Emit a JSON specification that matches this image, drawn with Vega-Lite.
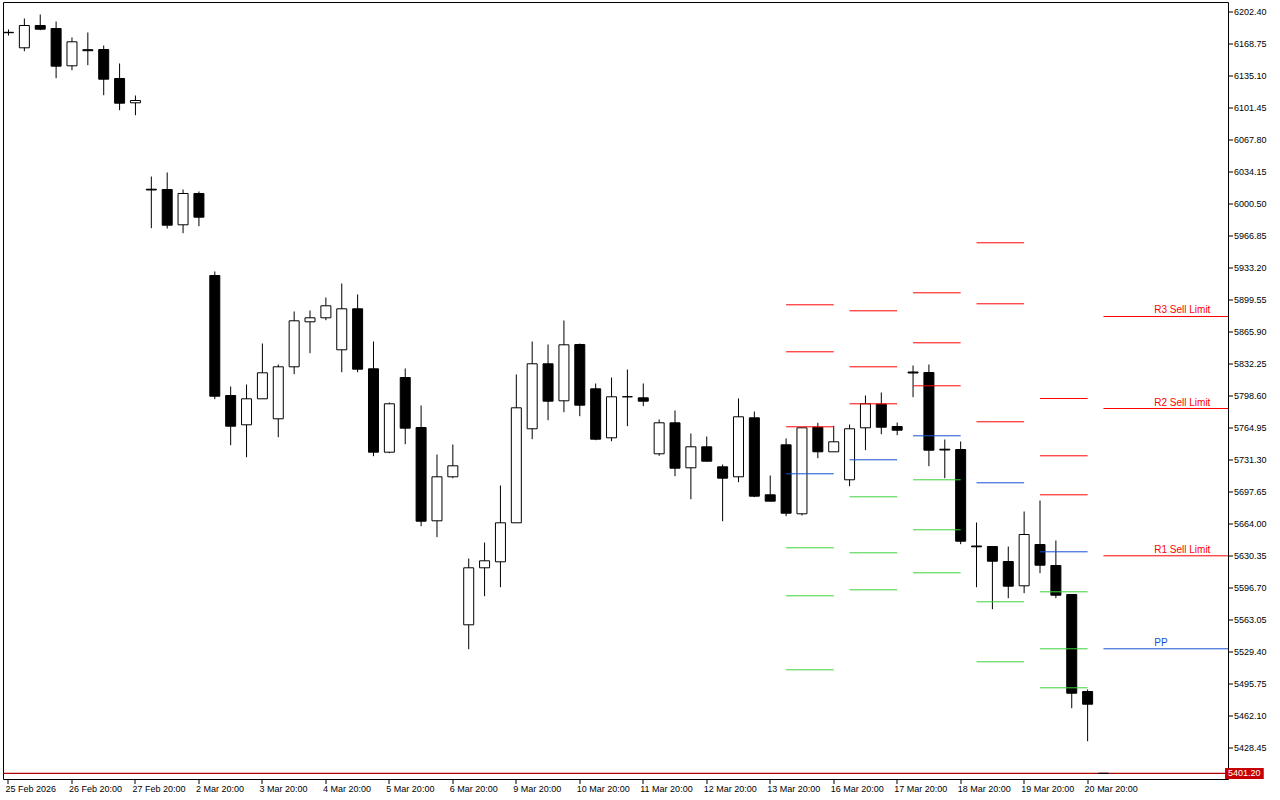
{
  "$schema": "https://vega.github.io/schema/vega-lite/v6.json",
  "width": 1225,
  "height": 777,
  "padding": {"left": 2, "top": 2, "right": 0, "bottom": 0},
  "autosize": {"type": "pad"},
  "background": "white",
  "config": {
    "view": {"stroke": "black", "strokeWidth": 1},
    "axis": {"translate": 0, "grid": false, "domain": false, "title": null, "tickColor": "black", "labelColor": "black", "labelFont": "Liberation Sans", "labelFontSize": 9, "tickSize": 5, "labelOverlap": false, "labelFlush": false, "labelBound": false}
  },
  "datasets": {
    "candles": [
      {"i": -1, "o": 6180.5, "h": 6183.5, "l": 6177.0, "c": 6180.1},
      {"i": 0, "o": 6164.23, "h": 6195.04, "l": 6160.65, "c": 6187.68},
      {"i": 1, "o": 6187.68, "h": 6199.25, "l": 6182.74, "c": 6183.79},
      {"i": 2, "o": 6184.52, "h": 6191.88, "l": 6132.26, "c": 6144.88},
      {"i": 3, "o": 6145.30, "h": 6175.06, "l": 6140.67, "c": 6170.54},
      {"i": 4, "o": 6162.23, "h": 6180.32, "l": 6145.93, "c": 6161.18},
      {"i": 5, "o": 6162.44, "h": 6166.65, "l": 6114.38, "c": 6131.21},
      {"i": 6, "o": 6131.95, "h": 6147.72, "l": 6098.61, "c": 6105.97},
      {"i": 7, "o": 6106.39, "h": 6114.07, "l": 6093.35, "c": 6108.81},
      {"i": 8, "o": 6015.54, "h": 6028.89, "l": 5974.53, "c": 6014.70},
      {"i": 9, "o": 6015.22, "h": 6033.10, "l": 5974.21, "c": 5977.68},
      {"i": 10, "o": 5978.10, "h": 6015.22, "l": 5969.27, "c": 6011.02},
      {"i": 11, "o": 6011.02, "h": 6013.12, "l": 5976.63, "c": 5986.10},
      {"i": 12, "o": 5924.79, "h": 5929.00, "l": 5794.71, "c": 5797.87},
      {"i": 13, "o": 5798.60, "h": 5808.07, "l": 5746.34, "c": 5766.32},
      {"i": 14, "o": 5767.79, "h": 5810.17, "l": 5733.72, "c": 5795.13},
      {"i": 15, "o": 5795.13, "h": 5853.28, "l": 5795.13, "c": 5822.47},
      {"i": 16, "o": 5774.10, "h": 5831.20, "l": 5754.75, "c": 5828.78},
      {"i": 17, "o": 5828.78, "h": 5886.93, "l": 5821.00, "c": 5877.15},
      {"i": 18, "o": 5876.10, "h": 5887.99, "l": 5843.09, "c": 5880.31},
      {"i": 19, "o": 5880.31, "h": 5901.66, "l": 5877.78, "c": 5892.93},
      {"i": 20, "o": 5846.66, "h": 5916.38, "l": 5823.10, "c": 5889.77},
      {"i": 21, "o": 5889.77, "h": 5904.81, "l": 5823.10, "c": 5826.26},
      {"i": 22, "o": 5826.68, "h": 5855.39, "l": 5734.77, "c": 5738.98},
      {"i": 23, "o": 5738.98, "h": 5791.24, "l": 5737.93, "c": 5789.87},
      {"i": 24, "o": 5817.53, "h": 5827.00, "l": 5747.39, "c": 5764.22},
      {"i": 25, "o": 5764.95, "h": 5788.09, "l": 5661.16, "c": 5666.42},
      {"i": 26, "o": 5666.84, "h": 5736.56, "l": 5649.60, "c": 5713.11},
      {"i": 27, "o": 5713.11, "h": 5747.08, "l": 5711.64, "c": 5724.67},
      {"i": 28, "o": 5557.47, "h": 5627.20, "l": 5531.82, "c": 5617.41},
      {"i": 29, "o": 5617.41, "h": 5644.02, "l": 5587.55, "c": 5624.77},
      {"i": 30, "o": 5623.72, "h": 5703.96, "l": 5597.01, "c": 5664.74},
      {"i": 31, "o": 5664.74, "h": 5820.69, "l": 5664.74, "c": 5785.67},
      {"i": 32, "o": 5763.59, "h": 5855.39, "l": 5752.64, "c": 5831.94},
      {"i": 33, "o": 5831.94, "h": 5852.23, "l": 5772.63, "c": 5792.61},
      {"i": 34, "o": 5793.03, "h": 5877.47, "l": 5781.04, "c": 5851.91},
      {"i": 35, "o": 5852.23, "h": 5853.28, "l": 5776.84, "c": 5788.40},
      {"i": 36, "o": 5805.65, "h": 5811.22, "l": 5751.59, "c": 5752.64},
      {"i": 37, "o": 5754.12, "h": 5817.53, "l": 5750.54, "c": 5797.23},
      {"i": 38, "o": 5797.23, "h": 5825.94, "l": 5766.32, "c": 5797.30},
      {"i": 39, "o": 5796.18, "h": 5811.22, "l": 5787.35, "c": 5792.61},
      {"i": 40, "o": 5737.29, "h": 5773.37, "l": 5735.19, "c": 5769.89},
      {"i": 41, "o": 5769.89, "h": 5782.83, "l": 5713.74, "c": 5722.15},
      {"i": 42, "o": 5722.57, "h": 5758.64, "l": 5689.55, "c": 5744.66},
      {"i": 43, "o": 5744.66, "h": 5755.49, "l": 5729.20, "c": 5729.51},
      {"i": 44, "o": 5723.62, "h": 5726.04, "l": 5666.42, "c": 5711.64},
      {"i": 45, "o": 5713.11, "h": 5795.45, "l": 5707.43, "c": 5776.20},
      {"i": 46, "o": 5775.15, "h": 5781.78, "l": 5691.66, "c": 5692.71},
      {"i": 47, "o": 5694.18, "h": 5714.48, "l": 5687.45, "c": 5687.45},
      {"i": 48, "o": 5746.76, "h": 5753.39, "l": 5671.68, "c": 5674.83},
      {"i": 49, "o": 5674.20, "h": 5764.64, "l": 5672.41, "c": 5764.64},
      {"i": 50, "o": 5765.27, "h": 5769.89, "l": 5732.67, "c": 5739.40},
      {"i": 51, "o": 5739.40, "h": 5766.74, "l": 5739.40, "c": 5749.91},
      {"i": 52, "o": 5709.96, "h": 5768.11, "l": 5703.23, "c": 5763.59},
      {"i": 53, "o": 5764.64, "h": 5798.60, "l": 5741.08, "c": 5789.87},
      {"i": 54, "o": 5789.45, "h": 5801.76, "l": 5757.91, "c": 5765.27},
      {"i": 55, "o": 5766.00, "h": 5770.21, "l": 5756.86, "c": 5762.11},
      {"i": 56, "o": 5823.31, "h": 5830.15, "l": 5796.81, "c": 5822.26},
      {"i": 57, "o": 5822.79, "h": 5831.20, "l": 5724.25, "c": 5741.08},
      {"i": 58, "o": 5742.13, "h": 5752.33, "l": 5711.64, "c": 5741.29},
      {"i": 59, "o": 5741.82, "h": 5750.23, "l": 5642.24, "c": 5645.39},
      {"i": 60, "o": 5640.34, "h": 5665.05, "l": 5597.01, "c": 5639.50},
      {"i": 61, "o": 5639.81, "h": 5639.81, "l": 5573.88, "c": 5624.35},
      {"i": 62, "o": 5624.04, "h": 5639.81, "l": 5585.45, "c": 5598.07},
      {"i": 63, "o": 5598.49, "h": 5676.62, "l": 5590.71, "c": 5652.43},
      {"i": 64, "o": 5641.92, "h": 5688.19, "l": 5611.74, "c": 5620.15},
      {"i": 65, "o": 5619.84, "h": 5646.13, "l": 5585.45, "c": 5588.60},
      {"i": 66, "o": 5589.34, "h": 5589.34, "l": 5469.78, "c": 5485.55},
      {"i": 67, "o": 5487.33, "h": 5489.44, "l": 5435.07, "c": 5473.98}
    ],
    "current": [
      {"i": 68, "o": 5401.30, "c": 5401.20}
    ],
    "pivots": [
      {"x1": 48, "x2": 51, "p": 5893.98, "lvl": "R"},
      {"x1": 48, "x2": 51, "p": 5844.55, "lvl": "R"},
      {"x1": 48, "x2": 51, "p": 5765.69, "lvl": "R"},
      {"x1": 48, "x2": 51, "p": 5716.27, "lvl": "P"},
      {"x1": 48, "x2": 51, "p": 5638.45, "lvl": "S"},
      {"x1": 48, "x2": 51, "p": 5587.97, "lvl": "S"},
      {"x1": 48, "x2": 51, "p": 5510.16, "lvl": "S"},
      {"x1": 52, "x2": 55, "p": 5887.67, "lvl": "R"},
      {"x1": 52, "x2": 55, "p": 5828.78, "lvl": "R"},
      {"x1": 52, "x2": 55, "p": 5789.87, "lvl": "R"},
      {"x1": 52, "x2": 55, "p": 5730.99, "lvl": "P"},
      {"x1": 52, "x2": 55, "p": 5692.08, "lvl": "S"},
      {"x1": 52, "x2": 55, "p": 5633.19, "lvl": "S"},
      {"x1": 52, "x2": 55, "p": 5594.28, "lvl": "S"},
      {"x1": 56, "x2": 59, "p": 5906.60, "lvl": "R"},
      {"x1": 56, "x2": 59, "p": 5854.02, "lvl": "R"},
      {"x1": 56, "x2": 59, "p": 5808.80, "lvl": "R"},
      {"x1": 56, "x2": 59, "p": 5756.22, "lvl": "P"},
      {"x1": 56, "x2": 59, "p": 5709.96, "lvl": "S"},
      {"x1": 56, "x2": 59, "p": 5657.38, "lvl": "S"},
      {"x1": 56, "x2": 59, "p": 5612.16, "lvl": "S"},
      {"x1": 60, "x2": 63, "p": 5959.18, "lvl": "R"},
      {"x1": 60, "x2": 63, "p": 5895.03, "lvl": "R"},
      {"x1": 60, "x2": 63, "p": 5770.95, "lvl": "R"},
      {"x1": 60, "x2": 63, "p": 5706.80, "lvl": "P"},
      {"x1": 60, "x2": 63, "p": 5581.66, "lvl": "S"},
      {"x1": 60, "x2": 63, "p": 5518.57, "lvl": "S"},
      {"x1": 64, "x2": 67, "p": 5795.45, "lvl": "R"},
      {"x1": 64, "x2": 67, "p": 5735.19, "lvl": "R"},
      {"x1": 64, "x2": 67, "p": 5694.18, "lvl": "R"},
      {"x1": 64, "x2": 67, "p": 5634.24, "lvl": "P"},
      {"x1": 64, "x2": 67, "p": 5592.18, "lvl": "S"},
      {"x1": 64, "x2": 67, "p": 5532.24, "lvl": "S"},
      {"x1": 64, "x2": 67, "p": 5491.23, "lvl": "S"},
      {"x1": 68, "x2": 76, "p": 5881.68, "lvl": "R"},
      {"x1": 68, "x2": 76, "p": 5784.93, "lvl": "R"},
      {"x1": 68, "x2": 76, "p": 5630.03, "lvl": "R"},
      {"x1": 68, "x2": 76, "p": 5532.24, "lvl": "P"}
    ],
    "labels": [
      {"x": 71.2, "p": 5881.68, "t": "R3 Sell Limit", "lvl": "R"},
      {"x": 71.2, "p": 5784.93, "t": "R2 Sell Limit", "lvl": "R"},
      {"x": 71.2, "p": 5630.03, "t": "R1 Sell Limit", "lvl": "R"},
      {"x": 71.2, "p": 5532.24, "t": "PP", "lvl": "P"}
    ],
    "bid": [
      {"p": 5401.20, "lx1": -2, "lx2": 76, "x1": 75.66, "x2": 78.1, "p1": 5406.89, "p2": 5395.33, "t": "5401.20"}
    ]
  },
  "layer": [
    {
      "data": {"name": "candles"},
      "mark": {"type": "rule", "color": "black", "strokeWidth": 1},
      "encoding": {
        "x": {
          "field": "i", "type": "quantitative",
          "scale": {"domain": [-1.03125, 75.53125], "nice": false, "zero": false},
          "axis": {
            "orient": "bottom",
            "values": [-1, 3, 7, 11, 15, 19, 23, 27, 31, 35, 39, 43, 47, 51, 55, 59, 63, 67],
            "tickCount": 100,
            "labelExpr": "['25 Feb 2026','26 Feb 20:00','27 Feb 20:00','2 Mar 20:00','3 Mar 20:00','4 Mar 20:00','5 Mar 20:00','6 Mar 20:00','9 Mar 20:00','10 Mar 20:00','11 Mar 20:00','12 Mar 20:00','13 Mar 20:00','16 Mar 20:00','17 Mar 20:00','18 Mar 20:00','19 Mar 20:00','20 Mar 20:00'][(datum.value + 1) / 4]",
            "labelAlign": "left",
            "labelBaseline": "top",
            "labelOffset": -3,
            "labelPadding": 1,
            "labelFlush": false,
            "labelOverlap": false,
            "labelBound": false
          }
        },
        "y": {
          "field": "l", "type": "quantitative",
          "scale": {"domain": [5395.33, 6212.39], "nice": false, "zero": false},
          "axis": {
            "orient": "right",
            "values": [6202.40, 6168.75, 6135.10, 6101.45, 6067.80, 6034.15, 6000.50, 5966.85, 5933.20, 5899.55, 5865.90, 5832.25, 5798.60, 5764.95, 5731.30, 5697.65, 5664.00, 5630.35, 5596.70, 5563.05, 5529.40, 5495.75, 5462.10, 5428.45],
            "tickCount": 100,
            "format": ".2f",
            "labelPadding": 1,
            "labelBaseline": "middle",
            "labelOverlap": false,
            "labelFlush": false,
            "labelBound": false
          }
        },
        "y2": {"field": "h"}
      }
    },
    {
      "data": {"name": "candles"},
      "mark": {"type": "bar", "width": 10, "stroke": "black", "strokeWidth": 1},
      "encoding": {
        "x": {"field": "i", "type": "quantitative"},
        "y": {"field": "o", "type": "quantitative"},
        "y2": {"field": "c"},
        "fill": {"condition": {"test": "datum.c >= datum.o", "value": "white"}, "value": "black"}
      }
    },
    {
      "data": {"name": "pivots"},
      "mark": {"type": "rule", "strokeWidth": 1, "clip": true},
      "encoding": {
        "x": {"field": "x1", "type": "quantitative"},
        "x2": {"field": "x2"},
        "y": {"field": "p", "type": "quantitative"},
        "color": {"field": "lvl", "type": "nominal", "scale": {"domain": ["R", "P", "S"], "range": ["#ff0000", "#1450d2", "#3cd23c"]}, "legend": null}
      }
    },
    {
      "data": {"name": "bid"},
      "mark": {"type": "rule", "stroke": "#b00000", "strokeWidth": 1.2, "clip": true},
      "encoding": {
        "x": {"field": "lx1", "type": "quantitative"},
        "x2": {"field": "lx2"},
        "y": {"field": "p", "type": "quantitative"}
      }
    },
    {
      "data": {"name": "current"},
      "mark": {"type": "bar", "width": 10, "stroke": "black", "strokeWidth": 1, "fill": "black"},
      "encoding": {
        "x": {"field": "i", "type": "quantitative"},
        "y": {"field": "o", "type": "quantitative"},
        "y2": {"field": "c"}
      }
    },
    {
      "data": {"name": "labels"},
      "mark": {"type": "text", "align": "left", "baseline": "alphabetic", "dy": -3, "font": "Liberation Sans", "fontSize": 10},
      "encoding": {
        "x": {"field": "x", "type": "quantitative"},
        "y": {"field": "p", "type": "quantitative"},
        "text": {"field": "t"},
        "color": {"field": "lvl", "type": "nominal", "legend": null}
      }
    },
    {
      "data": {"name": "bid"},
      "mark": {"type": "rect", "color": "#c40000"},
      "encoding": {
        "x": {"field": "x1", "type": "quantitative"},
        "x2": {"field": "x2"},
        "y": {"field": "p1", "type": "quantitative"},
        "y2": {"field": "p2"}
      }
    },
    {
      "data": {"name": "bid"},
      "mark": {"type": "text", "align": "left", "baseline": "middle", "dx": 3, "color": "white", "font": "Liberation Sans", "fontSize": 9},
      "encoding": {
        "x": {"field": "x1", "type": "quantitative"},
        "y": {"field": "p", "type": "quantitative"},
        "text": {"field": "t"}
      }
    }
  ]
}
